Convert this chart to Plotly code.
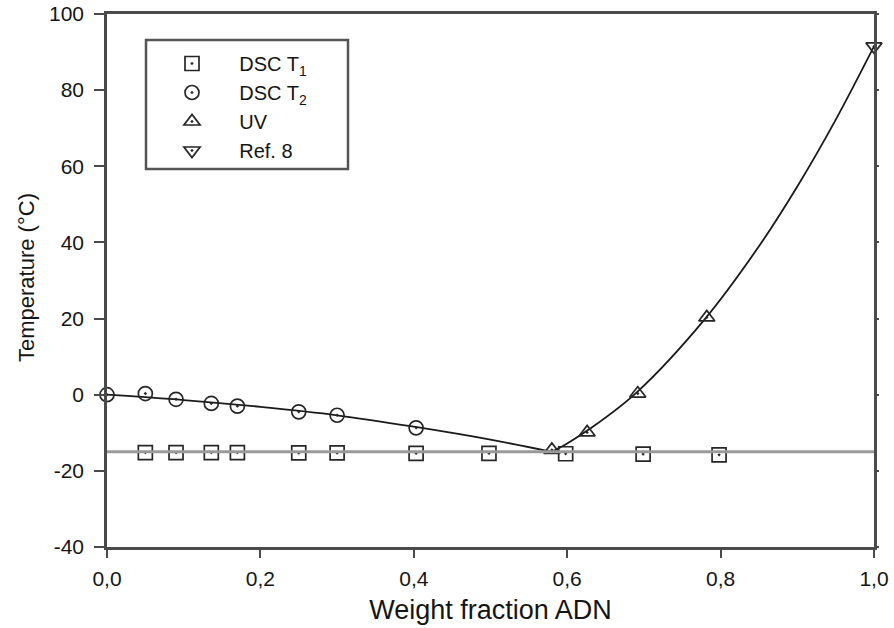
import plotly.graph_objects as go

# ---- data ----
dsc_t1_x = [0.05, 0.09, 0.136, 0.17, 0.25, 0.30, 0.403, 0.498, 0.598, 0.699, 0.798]
dsc_t1_y = [-15.2, -15.2, -15.2, -15.2, -15.3, -15.3, -15.4, -15.4, -15.5, -15.6, -15.8]

dsc_t2_x = [0.0, 0.05, 0.09, 0.136, 0.17, 0.25, 0.30, 0.403]
dsc_t2_y = [0.0, 0.3, -1.2, -2.3, -3.0, -4.5, -5.4, -8.7]

uv_x = [0.58, 0.626, 0.692, 0.782]
uv_y = [-14.5, -9.9, 0.3, 20.3]

ref8_x = [1.0]
ref8_y = [91.5]

# fitted liquidus curves
left_curve_x = [0.0, 0.1, 0.2, 0.3, 0.4, 0.5, 0.58]
left_curve_y = [0.0, -1.4, -3.2, -5.4, -8.4, -11.8, -15.0]
right_curve_x = [0.58, 0.60, 0.63, 0.69, 0.78, 0.85, 0.90, 0.95, 1.0]
right_curve_y = [-15.0, -12.8, -8.9, 0.5, 20.0, 39.0, 54.7, 72.2, 91.5]

eutectic_x = [0.0, 1.0]
eutectic_y = [-15.0, -15.0]

x_ticks = [0.0, 0.2, 0.4, 0.6, 0.8, 1.0]
x_ticktext = ["0,0", "0,2", "0,4", "0,6", "0,8", "1,0"]
y_ticks = [-40, -20, 0, 20, 40, 60, 80, 100]
y_ticktext = ["-40", "-20", "0", "20", "40", "60", "80", "100"]

x_title = "Weight fraction ADN"
y_title = "Temperature (°C)"

FONT = "Liberation Sans, Arial, sans-serif"
TXT = "#151515"
AXIS_COL = "#4a4a4a"
MK_COL = "#262626"
NB = "\u00a0"

fig = go.Figure()

fig.add_trace(go.Scatter(x=eutectic_x, y=eutectic_y, mode="lines", yaxis="y2",
                         line=dict(color="#9a9a9a", width=3), showlegend=False,
                         hoverinfo="skip", cliponaxis=False))
fig.add_trace(go.Scatter(x=left_curve_x, y=left_curve_y, mode="lines",
                         line=dict(color="#1a1a1a", width=1.8, shape="spline"),
                         showlegend=False, hoverinfo="skip"))
fig.add_trace(go.Scatter(x=right_curve_x, y=right_curve_y, mode="lines",
                         line=dict(color="#1a1a1a", width=1.8, shape="spline"),
                         showlegend=False, hoverinfo="skip"))

def mk(symbol):
    return dict(symbol=symbol, size=14, color=MK_COL, line=dict(color=MK_COL, width=1.7))

fig.add_trace(go.Scatter(x=dsc_t1_x, y=dsc_t1_y, mode="markers", name=NB * 4 + "DSC T<sub>1</sub>",
                         marker=mk("square-open-dot"), cliponaxis=False))
fig.add_trace(go.Scatter(x=dsc_t2_x, y=dsc_t2_y, mode="markers", name=NB * 4 + "DSC T<sub>2</sub>",
                         marker=mk("circle-open-dot"), cliponaxis=False))
fig.add_trace(go.Scatter(x=uv_x, y=uv_y, mode="markers", name=NB * 4 + "UV",
                         marker=mk("triangle-up-open-dot"), cliponaxis=False))
fig.add_trace(go.Scatter(x=ref8_x, y=ref8_y, mode="markers", name=NB * 4 + "Ref. 8",
                         marker=mk("triangle-down-open-dot"), cliponaxis=False))

L, R, T, B = 107, 20, 14, 81
W, H = 894, 628
pw, ph = W - L - R, H - T - B

def px_x(p):
    return (p - L) / pw

def px_y(p):
    return (H - B - p) / ph

fig.add_shape(type="rect", xref="paper", yref="paper",
              x0=px_x(146), x1=px_x(348), y0=px_y(169), y1=px_y(40),
              line=dict(color="#555555", width=2.5), fillcolor="rgba(0,0,0,0)")

fig.add_annotation(text=y_title, xref="paper", yref="paper",
                   x=px_x(26), y=px_y(278), xanchor="center", yanchor="middle",
                   textangle=-90, showarrow=False,
                   font=dict(size=22, family=FONT, color=TXT))

fig.update_layout(
    width=W, height=H,
    margin=dict(l=L, r=R, t=T, b=B, autoexpand=False),
    paper_bgcolor="white", plot_bgcolor="white",
    font=dict(family=FONT, color=TXT, size=20),
    showlegend=True,
    legend=dict(x=px_x(167), y=px_y(44), xanchor="left", yanchor="top",
                bgcolor="rgba(0,0,0,0)", borderwidth=0,
                font=dict(family=FONT, size=20, color=TXT),
                itemwidth=40, tracegroupgap=0),
    xaxis=dict(range=[0, 1], tickvals=x_ticks, ticktext=x_ticktext, automargin=False,
               ticks="outside", ticklen=8, tickwidth=2, tickcolor=AXIS_COL,
               showline=True, linecolor=AXIS_COL, linewidth=2.5, mirror=True,
               showgrid=False, zeroline=False, ticklabelstandoff=3,
               tickfont=dict(size=21, family=FONT, color=TXT),
               title=dict(text=x_title, font=dict(size=27, family=FONT, color=TXT),
                          standoff=12)),
    yaxis=dict(range=[-40, 100], tickvals=y_ticks, ticktext=y_ticktext, automargin=False,
               ticks="outside", ticklen=10, tickwidth=2, tickcolor=AXIS_COL,
               showline=True, linecolor=AXIS_COL, linewidth=2.5, mirror=True,
               showgrid=False, zeroline=False, ticklabelstandoff=6,
               tickfont=dict(size=21, family=FONT, color=TXT)),
    yaxis2=dict(range=[-40, 100], overlaying="y", side="right", matches="y", automargin=False,
                tickvals=y_ticks, ticks="outside", ticklen=4, tickwidth=2, tickcolor=AXIS_COL,
                showticklabels=False, showline=False, showgrid=False, zeroline=False),
)

fig.write_html("out.html")
